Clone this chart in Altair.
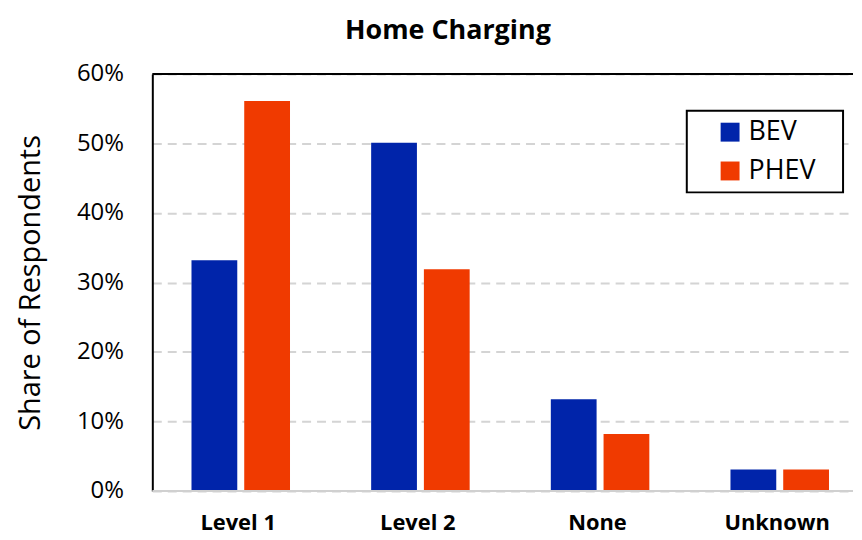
import altair as alt
import pandas as pd

categories = ["Level 1", "Level 2", "None", "Unknown"]
series = ["BEV", "PHEV"]
bev_share = [0.332, 0.501, 0.132, 0.031]
phev_share = [0.561, 0.319, 0.082, 0.031]
y_ticks = [0.0, 0.1, 0.2, 0.3, 0.4, 0.5, 0.6]
colors = ["#0024AA", "#F03A00"]

rows = []
for c, b, p in zip(categories, bev_share, phev_share):
    rows.append({"category": c, "type": "BEV", "share": b})
    rows.append({"category": c, "type": "PHEV", "share": p})
df = pd.DataFrame(rows)

FONT = "Open Sans"

bars = alt.Chart(df).mark_bar().encode(
    x=alt.X(
        "category:N",
        sort=categories,
        scale=alt.Scale(paddingInner=0.1, paddingOuter=0, align=0),
        axis=alt.Axis(
            title=None,
            labelAngle=0,
            labelFont=FONT,
            labelFontSize=22,
            labelFontWeight="bold",
            labelColor="black",
            labelPadding=22,
            labelOffset=5,
            ticks=False,
            domain=False,
            grid=False,
        ),
    ),
    xOffset=alt.XOffset(
        "type:N",
        sort=series,
        scale=alt.Scale(paddingInner=0.132, paddingOuter=0.599, align=0.62),
    ),
    y=alt.Y(
        "share:Q",
        scale=alt.Scale(domain=[0, 0.6], nice=False),
        axis=alt.Axis(
            title="Share of Respondents",
            titleFont=FONT,
            titleFontSize=29,
            titleFontWeight="normal",
            titleColor="black",
            titlePadding=31,
            values=y_ticks,
            format=".0%",
            labelFont=FONT,
            labelFontSize=24,
            labelColor="black",
            labelPadding=29,
            ticks=False,
            domainColor="black",
            domainWidth=2,
            grid=True,
            gridColor="#D4D4D4",
            gridWidth=2,
            gridDash=[9, 6],
        ),
    ),
    color=alt.Color(
        "type:N",
        sort=series,
        scale=alt.Scale(domain=series, range=colors),
        legend=alt.Legend(
            title=" ",
            titleOrient="right",
            titleFontSize=2,
            titlePadding=20,
            orient="none",
            legendX=537,
            legendY=37,
            padding=8,
            fillColor="white",
            strokeColor="black",
            symbolType="square",
            symbolSize=361,
            symbolStrokeWidth=0,
            symbolOffset=22,
            labelOffset=5,
            labelFont=FONT,
            labelFontSize=27,
            labelColor="black",
            rowPadding=11,
        ),
    ),
)

top_line = alt.Chart(pd.DataFrame({"v": [0.6]})).mark_rule(color="black", strokeWidth=2).encode(
    y=alt.Y("v:Q")
)
base_line = alt.Chart(pd.DataFrame({"v": [0.0]})).mark_rule(color="#D0D0D0", strokeWidth=2).encode(
    y=alt.Y("v:Q")
)

chart = (
    alt.layer(bars, base_line, top_line)
    .properties(
        width=704,
        height=419,
        padding={"left": 8, "top": 8, "right": 0, "bottom": 0},
        title=alt.TitleParams(
            "Home Charging",
            font=FONT,
            fontSize=27,
            fontWeight="bold",
            color="black",
            anchor="middle",
            frame="group",
            dx=-55,
            offset=17,
        ),
    )
    .configure_view(stroke=None)
    .configure_legend(strokeWidth=2)
)

chart.save("out.html", embed_options={"renderer": "svg", "actions": False})
